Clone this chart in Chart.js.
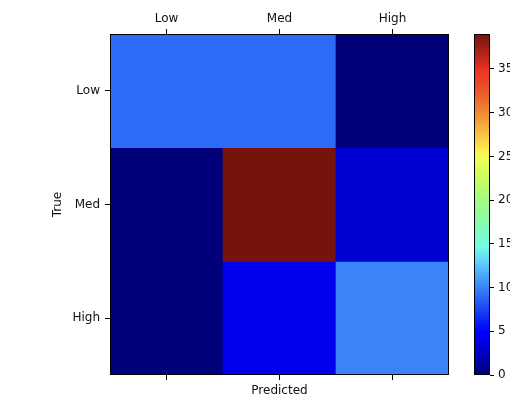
<!DOCTYPE html>
<html>
<head>
<meta charset="utf-8">
<script src="https://cdn.jsdelivr.net/npm/chart.js@4"></script>
<style>
  html, body { margin: 0; padding: 0; background: #fff; overflow: hidden; width: 510px; height: 396px; }
  #main { position: absolute; left: 0; top: 0; }
  #cbar { position: absolute; left: 460px; top: 0; }
</style>
</head>
<body>
<canvas id="main" width="460" height="400"></canvas>
<canvas id="cbar" width="50" height="400"></canvas>
<script>
// confusion matrix, rows = true, columns = predicted
var labels = ['Low', 'Med', 'High'];
var rowLow = [9, 9, 0];
var rowMed = [0, 39, 3];
var rowHigh = [0, 4, 10];
var cbTicks = [0, 5, 10, 15, 20, 25, 30, 35];

var rows = [rowLow, rowMed, rowHigh];
var vmin = 0;
var vmax = Math.max.apply(null, rows.flat());

// matplotlib jet
var jetR = [[0, 0], [0.35, 0], [0.66, 1], [0.89, 1], [1, 0.5]];
var jetG = [[0, 0], [0.125, 0], [0.375, 1], [0.64, 1], [0.91, 0], [1, 0]];
var jetB = [[0, 0.5], [0.11, 1], [0.34, 1], [0.65, 0], [1, 0]];
function seg(pts, t) {
    for (var i = 1; i < pts.length; i++) {
        if (t <= pts[i][0]) {
            var a = pts[i - 1], b = pts[i];
            return a[1] + (b[1] - a[1]) * (t - a[0]) / (b[0] - a[0]);
        }
    }
    return pts[pts.length - 1][1];
}
// the reference picture's colours look like they went through a display-p3 profile
function lin(c) { return c <= 0.04045 ? c / 12.92 : Math.pow((c + 0.055) / 1.055, 2.4); }
function gam(c) { c = Math.min(1, Math.max(0, c)); return c <= 0.0031308 ? c * 12.92 : 1.055 * Math.pow(c, 1 / 2.4) - 0.055; }
function toP3(r, g, b) {
    var R = lin(r), G = lin(g), B = lin(b);
    return [
        gam(0.8225 * R + 0.1774 * G),
        gam(0.0332 * R + 0.9669 * G),
        gam(0.0171 * R + 0.0724 * G + 0.9108 * B)
    ];
}
function jet(t) {
    t = Math.min(1, Math.max(0, t));
    var c = toP3(seg(jetR, t), seg(jetG, t), seg(jetB, t));
    return 'rgb(' + Math.round(c[0] * 255) + ',' + Math.round(c[1] * 255) + ',' + Math.round(c[2] * 255) + ')';
}

var textColor = '#111';
var font = { family: 'DejaVu Sans', size: 12 };
Chart.defaults.font = font;
Chart.defaults.color = textColor;

var frame = {
    id: 'frame',
    afterDatasetsDraw: function(chart) {
        var a = chart.chartArea, ctx = chart.ctx;
        ctx.save();
        ctx.strokeStyle = '#000';
        ctx.lineWidth = 1;
        ctx.strokeRect(Math.round(a.left) + 0.5, Math.round(a.top) + 0.5, Math.round(a.right - a.left) - 1, Math.round(a.bottom - a.top) - 1);
        ctx.restore();
    }
};

var datasets = rows.map(function(vals, r) {
    return {
        label: labels[r],
        data: vals.map(function() { return [r, r + 1]; }),
        backgroundColor: vals.map(function(v) { return jet((v - vmin) / (vmax - vmin)); }),
        borderWidth: 0,
        categoryPercentage: 1,
        barPercentage: 1,
        xAxisID: 'x',
        yAxisID: 'y'
    };
});

var tickGrid = { drawOnChartArea: false, drawTicks: true, tickLength: 5, color: '#000', offset: false };

new Chart(document.getElementById('main').getContext('2d'), {
    type: 'bar',
    data: { labels: labels, datasets: datasets },
    options: {
        responsive: false,
        animation: false,
        layout: { padding: { left: 48, right: 11, top: 0, bottom: 0 } },
        plugins: { legend: { display: false }, tooltip: { enabled: false } },
        scales: {
            x: {
                position: 'top',
                stacked: true,
                grid: tickGrid,
                border: { display: false },
                ticks: { padding: 3, color: textColor, maxRotation: 0 },
                afterFit: function(s) { s.height = 34; }
            },
            x2: {
                type: 'category',
                labels: labels,
                position: 'bottom',
                grid: tickGrid,
                border: { display: false },
                ticks: { display: false },
                title: { display: true, text: 'Predicted', color: textColor, padding: { top: 0, bottom: 2 } },
                afterFit: function(s) { s.height = 25; }
            },
            y: {
                min: 0,
                max: 3,
                reverse: true,
                stacked: false,
                grid: tickGrid,
                border: { display: false },
                afterBuildTicks: function(s) {
                    s.ticks = labels.map(function(l, i) { return { value: i + 0.5 }; });
                },
                ticks: {
                    padding: 5,
                    color: textColor,
                    callback: function(v) { return labels[Math.floor(v)]; }
                },
                title: { display: true, text: 'True', color: textColor, padding: { top: 3, bottom: 0 } },
                afterFit: function(s) { s.width = 62; }
            }
        }
    },
    plugins: [frame]
});

// colorbar
var gradientBar = {
    id: 'gradientBar',
    beforeDatasetsDraw: function(chart) {
        var a = chart.chartArea, ctx = chart.ctx, y = chart.scales.y;
        var y0 = y.getPixelForValue(vmin), y1 = y.getPixelForValue(vmax);
        var g = ctx.createLinearGradient(0, y0, 0, y1);
        for (var i = 0; i <= 128; i++) {
            g.addColorStop(i / 128, jet(i / 128));
        }
        ctx.save();
        ctx.fillStyle = g;
        ctx.fillRect(a.left, a.top, a.right - a.left, a.bottom - a.top);
        ctx.restore();
    }
};

new Chart(document.getElementById('cbar').getContext('2d'), {
    type: 'bar',
    data: { labels: [''], datasets: [{ data: [null] }] },
    options: {
        responsive: false,
        animation: false,
        layout: { padding: { left: 14, right: 0, top: 34, bottom: 25 } },
        plugins: { legend: { display: false }, tooltip: { enabled: false } },
        scales: {
            x: { display: false },
            y: {
                position: 'right',
                min: vmin,
                max: vmax,
                grid: { drawOnChartArea: false, drawTicks: true, tickLength: 4, color: '#000' },
                border: { display: false },
                afterBuildTicks: function(s) {
                    s.ticks = cbTicks.map(function(v) { return { value: v }; });
                },
                ticks: { padding: 4, color: textColor },
                afterFit: function(s) { s.width = 20; }
            }
        }
    },
    plugins: [gradientBar, frame]
});
</script>
</body>
</html>
